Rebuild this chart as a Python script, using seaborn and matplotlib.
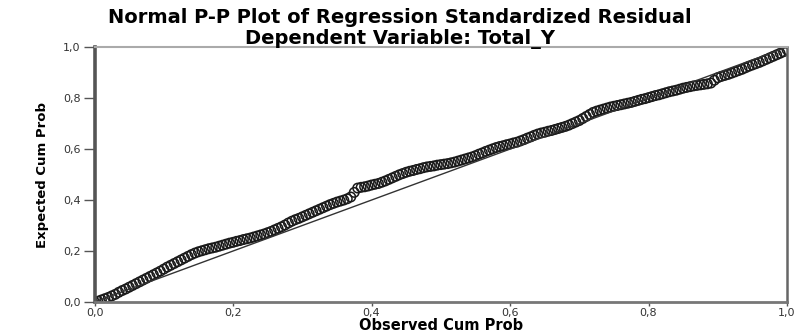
import matplotlib
matplotlib.use("Agg")
import matplotlib.pyplot as plt
import pandas as pd
import seaborn as sns

# observed vs expected cumulative probability
observed = [
    0.000, 0.005, 0.010, 0.015, 0.020, 0.025, 0.030, 0.035, 0.040, 0.045,
    0.050, 0.055, 0.060, 0.065, 0.070, 0.075, 0.080, 0.085, 0.090, 0.095,
    0.100, 0.105, 0.110, 0.115, 0.120, 0.125, 0.130, 0.135, 0.140, 0.145,
    0.150, 0.155, 0.160, 0.165, 0.170, 0.175, 0.180, 0.185, 0.190, 0.195,
    0.200, 0.205, 0.210, 0.215, 0.220, 0.225, 0.230, 0.235, 0.240, 0.245,
    0.250, 0.255, 0.260, 0.265, 0.270, 0.275, 0.280, 0.285, 0.290, 0.295,
    0.300, 0.305, 0.310, 0.315, 0.320, 0.325, 0.330, 0.335, 0.340, 0.345,
    0.350, 0.355, 0.360, 0.365, 0.370, 0.375, 0.380, 0.385, 0.390, 0.395,
    0.400, 0.405, 0.410, 0.415, 0.420, 0.425, 0.430, 0.435, 0.440, 0.445,
    0.450, 0.455, 0.460, 0.465, 0.470, 0.475, 0.480, 0.485, 0.490, 0.495,
    0.500, 0.505, 0.510, 0.515, 0.520, 0.525, 0.530, 0.535, 0.540, 0.545,
    0.550, 0.555, 0.560, 0.565, 0.570, 0.575, 0.580, 0.585, 0.590, 0.595,
    0.600, 0.605, 0.610, 0.615, 0.620, 0.625, 0.630, 0.635, 0.640, 0.645,
    0.650, 0.655, 0.660, 0.665, 0.670, 0.675, 0.680, 0.685, 0.690, 0.695,
    0.700, 0.705, 0.710, 0.715, 0.720, 0.725, 0.730, 0.735, 0.740, 0.745,
    0.750, 0.755, 0.760, 0.765, 0.770, 0.775, 0.780, 0.785, 0.790, 0.795,
    0.800, 0.805, 0.810, 0.815, 0.820, 0.825, 0.830, 0.835, 0.840, 0.845,
    0.850, 0.855, 0.860, 0.865, 0.870, 0.875, 0.880, 0.885, 0.890, 0.895,
    0.900, 0.905, 0.910, 0.915, 0.920, 0.925, 0.930, 0.935, 0.940, 0.945,
    0.950, 0.955, 0.960, 0.965, 0.970, 0.975, 0.980, 0.985, 0.990, 0.995,
    1.000,
]
expected = [
    0.000, 0.003, 0.008, 0.013, 0.018, 0.024, 0.030, 0.038, 0.045, 0.051,
    0.058, 0.065, 0.072, 0.079, 0.086, 0.093, 0.100, 0.107, 0.114, 0.121,
    0.129, 0.137, 0.144, 0.151, 0.158, 0.165, 0.172, 0.179, 0.186, 0.192,
    0.197, 0.201, 0.205, 0.209, 0.212, 0.215, 0.219, 0.223, 0.227, 0.231,
    0.234, 0.238, 0.241, 0.245, 0.248, 0.251, 0.255, 0.259, 0.263, 0.267,
    0.272, 0.277, 0.283, 0.289, 0.295, 0.302, 0.310, 0.317, 0.323, 0.328,
    0.334, 0.340, 0.346, 0.352, 0.358, 0.364, 0.370, 0.376, 0.382, 0.387,
    0.392, 0.396, 0.400, 0.405, 0.412, 0.430, 0.447, 0.450, 0.452, 0.455,
    0.459, 0.462, 0.465, 0.470, 0.475, 0.481, 0.487, 0.493, 0.499, 0.504,
    0.509, 0.513, 0.516, 0.520, 0.523, 0.527, 0.530, 0.532, 0.534, 0.537,
    0.539, 0.541, 0.543, 0.546, 0.549, 0.553, 0.557, 0.561, 0.565, 0.569,
    0.574, 0.580, 0.585, 0.591, 0.596, 0.601, 0.606, 0.610, 0.613, 0.617,
    0.620, 0.624, 0.627, 0.632, 0.637, 0.643, 0.648, 0.654, 0.659, 0.663,
    0.666, 0.670, 0.673, 0.677, 0.681, 0.685, 0.689, 0.694, 0.700, 0.706,
    0.712, 0.720, 0.728, 0.736, 0.744, 0.749, 0.753, 0.757, 0.761, 0.765,
    0.768, 0.771, 0.774, 0.777, 0.780, 0.783, 0.787, 0.791, 0.795, 0.798,
    0.802, 0.806, 0.810, 0.813, 0.817, 0.821, 0.825, 0.828, 0.831, 0.835,
    0.839, 0.842, 0.845, 0.848, 0.850, 0.852, 0.854, 0.856, 0.859, 0.870,
    0.880, 0.885, 0.889, 0.893, 0.898, 0.903, 0.908, 0.913, 0.919, 0.925,
    0.930, 0.935, 0.940, 0.946, 0.952, 0.958, 0.964, 0.970, 0.976, 0.982,
    0.990,
]
ref_line = [0.0, 1.0]
ticks = [0.0, 0.2, 0.4, 0.6, 0.8, 1.0]
tick_labels = ["0,0", "0,2", "0,4", "0,6", "0,8", "1,0"]

sns.set_theme(style="white")
plt.rcParams["font.family"] = ["DejaVu Sans"]

df = pd.DataFrame({"Observed": observed, "Expected": expected})

fig = plt.figure(figsize=(7.97, 3.32), dpi=100)
ax = fig.add_axes([0.1186, 0.0904, 0.8689, 0.7676])

sns.lineplot(x=ref_line, y=ref_line, color="#333333", linewidth=1.0, ax=ax)
sns.scatterplot(
    data=df,
    x="Observed",
    y="Expected",
    marker="o",
    s=46,
    facecolors="none",
    edgecolor="#1a1a1a",
    linewidth=1.1,
    ax=ax,
)

ax.set_xlim(0, 1)
ax.set_ylim(0, 1)
ax.set_xticks(ticks)
ax.set_xticklabels(tick_labels)
ax.set_yticks(ticks)
ax.set_yticklabels(tick_labels)
ax.tick_params(axis="y", direction="out", length=8, width=1, color="#555555",
               labelsize=8, labelcolor="#333333", pad=2, left=True)
ax.tick_params(axis="x", direction="out", length=3, width=1, color="#555555",
               labelsize=8, labelcolor="#333333", pad=1, bottom=True)

for side, lw, col in [("left", 2.6, "#555555"), ("bottom", 2.0, "#777777"),
                      ("top", 1.5, "#aaaaaa"), ("right", 1.8, "#666666")]:
    ax.spines[side].set_visible(True)
    ax.spines[side].set_linewidth(lw)
    ax.spines[side].set_color(col)

ax.set_xlabel("Observed Cum Prob", fontsize=10.5, fontweight="bold",
              color="black", labelpad=0)
ax.set_ylabel("Expected Cum Prob", fontsize=9.5, fontweight="bold",
              color="black", labelpad=10)

fig.text(0.502, 0.946, "Normal P-P Plot of Regression Standardized Residual",
         ha="center", va="center", fontsize=14, fontweight="bold",
         color="black")
fig.text(0.502, 0.884, "Dependent Variable: Total_Y",
         ha="center", va="center", fontsize=14, fontweight="bold",
         color="black")

fig.savefig("out.png", dpi=100)
